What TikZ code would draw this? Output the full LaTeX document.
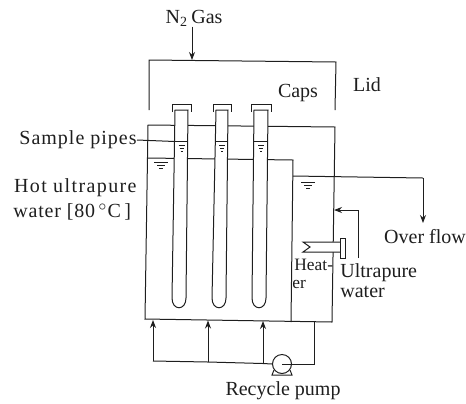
\documentclass[tikz,border=0pt]{standalone}
\usepackage{amsmath,amssymb}
\usepackage{fontspec}
\setmainfont{Liberation Serif}
\usetikzlibrary{arrows.meta,calc}
\definecolor{ink}{RGB}{30,30,30}
\tikzset{
    wall/.style={ink, line width=0.5pt},
    label/.style={inner sep=0pt, text=ink, font=\fontsize{10}{11}\selectfont},
    spaced/.style={label, font=\fontsize{10}{11}\selectfont\addfontfeatures{LetterSpace=#1}},
    narrow/.style={label, font=\fontsize{8.7}{10}\selectfont},
    flowtip/.style={-{Stealth[length=4pt,width=3pt]}}
}
% water level mark
\newcommand{\levelmark}[2]{
    \draw[wall, line width=0.4pt] (#1-7,#2) -- (#1+7,#2);
    \draw[wall, line width=0.4pt] (#1-4,#2+3) -- (#1+4,#2+3);
    \draw[wall, line width=0.4pt] (#1-2,#2+6) -- (#1+2,#2+6);
}
% sample pipe: top left, top right, bottom left, bottom right
\newcommand{\samplepipe}[4]{
    \draw[wall, fill=white] (#1,110) -- (#2,110) -- (#4,298)
        .. controls (#4,311) and (#3,311) .. (#3,298) -- cycle;
    \draw[wall] (#1-3,112) -- (#1-3,104) -- (#2+3,104) -- (#2+3,112);
    \draw[wall] (#1,141.5) -- (#2,141.5);
    \draw[wall, line width=0.4pt] ($(#1,145)!0.5!(#2,145)+(-3,0)$) -- ++(6,0);
    \draw[wall, line width=0.4pt] ($(#1,148)!0.5!(#2,148)+(-2,0)$) -- ++(4,0);
    \draw[wall, line width=0.4pt] ($(#1,151)!0.5!(#2,151)+(-1,0)$) -- ++(2,0);
}

\begin{document}
\begin{tikzpicture}[x=0.5pt, y=-0.5pt, >=Stealth]
    \useasboundingbox (0,0) rectangle (466,403);

    % Lid
    \draw[wall] (149,110) -- (149,60) -- (336,62) -- (335,110);

    % Gas inlet
    \node[label] (gas) at (194,18) {N\textsubscript{2}\,Gas};
    \coordinate (inlet) at (192,60);
    \draw[wall, flowtip] (gas.south -| inlet) -- (inlet);

    % Tank and divider
    \draw[wall] (148,125) -- (335,127) -- (332,322) -- (145,319) -- cycle;
    \draw[wall] (148,158) -- (293,160) -- (291,322);

    % Outer level and overflow
    \coordinate (overtip) at (423,223);
    \draw[wall] (293,176) -- (423,178);
    \draw[wall, flowtip] (423,178) -- (overtip);
    \levelmark{161}{162}
    \levelmark{308}{182}

    % Pipes
    \samplepipe{175}{188}{172}{186}
    \samplepipe{216}{228}{212}{226}
    \samplepipe{254}{268}{252}{266}

    % Heater
    \draw[wall, fill=white] (341,242) -- (303,242) -- (310,247) -- (303,252) -- (341,252);
    \draw[wall, fill=white] (340,238) rectangle (345,258);

    % Ultrapure water feed
    \coordinate (feed) at (334,210);
    \draw[wall, flowtip] (358,258) -- (358,210) -- (feed);

    % Recycle loop
    \node[wall, draw, circle, minimum size=9.5pt, inner sep=0pt, fill=white] (pump) at (282,364) {};
    \draw[wall] (pump.center) -- (pump.east);
    \draw[wall] (274,370) -- (272,375) -- (292,375) -- (290,370);
    \coordinate (backa) at (153,320);
    \coordinate (backb) at (208,320.5);
    \coordinate (backc) at (263,321);
    \draw[wall] (pump.west) -- (263,363.5) -- (208,362) -- (153,361);
    \draw[wall, flowtip] (153,361) -- (backa);
    \draw[wall, flowtip] (208,362) -- (backb);
    \draw[wall, flowtip] (263,363.5) -- (backc);
    \draw[wall] (pump.east) -- (314,364) -- (314,322);

    % Labels
    \node[label] (caps) at (298,93) {Caps};
    \node[label] (lid) at (367,85) {Lid};
    \node[spaced=5, anchor=east] (sample) at (137,140) {Sample pipes};
    \coordinate (level) at (175,141.5);
    \draw[wall] (sample.east) -- (level);
    \node[spaced=7, anchor=east] (hot) at (137,188) {Hot ultrapure};
    \node[spaced=4, anchor=west] (bath) at (13,212) {water [80\,$^\circ$C\,]};
    \node[label] (over) at (425,237) {Over flow};
    \node[narrow, anchor=west] (heata) at (294,265) {Heat-};
    \node[narrow, anchor=west] (heatb) at (292,284) {er};
    \node[label, anchor=west] (ultra) at (340,273) {Ultrapure};
    \node[label, anchor=west] (water) at (340,292) {water};
    \node[label] (recycle) at (283,391) {Recycle pump};
\end{tikzpicture}
\end{document}
